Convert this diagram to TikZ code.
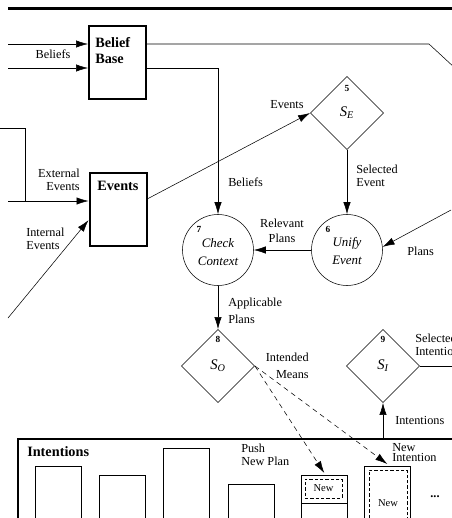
\documentclass[tikz,border=0pt]{standalone}
\usepackage{fontspec}
\setmainfont{Liberation Serif}
\usetikzlibrary{arrows.meta,shapes.geometric}

\begin{document}
\begin{tikzpicture}[x=0.75pt,y=0.75pt,yscale=-1,xscale=1,
  arr/.style={-{Latex[length=9pt,width=5.5pt]}},
  dasharr/.style={-{Latex[length=9pt,width=5.5pt]},dash pattern=on 3.75pt off 3pt},
  store/.style={draw,line width=1.5pt,inner sep=0pt,minimum width=42.75pt,minimum height=54.75pt},
  proc/.style={draw,circle,inner sep=0pt,minimum size=53.25pt},
  sel/.style={draw,diamond,inner sep=0pt,minimum width=55pt,minimum height=55pt},
  stack/.style={draw,anchor=north west,inner sep=0pt,minimum width=34.5pt,minimum height=60pt},
  newbox/.style={draw,dash pattern=on 2.5pt off 1.5pt,inner sep=0pt,font=\fontsize{7.9}{9}\selectfont},
  lbl/.style={inner sep=0pt,font=\fontsize{9.2}{9.75}\selectfont},
  bfl/.style={inner sep=0pt,font=\fontsize{10.7}{12}\selectfont\bfseries},
  num/.style={inner sep=0pt,font=\fontsize{7}{8}\selectfont\bfseries},
  itl/.style={inner sep=0pt,font=\fontsize{9.7}{13.5}\selectfont\itshape},
  sym/.style={inner sep=0pt,font=\fontsize{11}{12}\selectfont\itshape}
]
\useasboundingbox (0,0) rectangle (451,518);

% top rule
\coordinate (t1) at (8,8);
\coordinate (t2) at (455,8);
\draw [line width=2.25pt] (t1) -- (t2) ;

% stores, processes and selection functions
\node [store] (bb) at (117.5,62.5) {};
\node [store] (ev) at (118,209.5) {};
\node [sel] (se) at (347,113) {};
\node [proc] (uf) at (347,250) {};
\node [proc] (cc) at (218,250) {};
\node [sel] (so) at (218,366) {};
\node [sel] (si) at (383,366) {};

% intention stacks
\node [draw,line width=1.5pt,anchor=north west,inner sep=0pt,minimum width=400pt,minimum height=80pt] (intf) at (17,438) {};
\node [stack] (r1) at (35,466) {};
\node [stack] (r2) at (99,475) {};
\node [stack] (r3) at (163,448) {};
\node [stack] (r4) at (228,484) {};
\node [stack] (r5) at (301,475) {};
\node [stack] (r6) at (364,466) {};
\node [newbox,minimum width=27.75pt,minimum height=14.25pt] (n5) at (323.5,488.5) {New};
\node [newbox,minimum width=28.5pt,minimum height=49.5pt] (n6) at (388,503) {New};
\coordinate (d5) at (301,503);
\draw (d5) -- (d5 -| r5.east) ;

% belief base
\coordinate (b1) at (8,44);
\coordinate (b2) at (8,68);
\coordinate (bk) at (429,44);
\coordinate (bo) at (462,74.5);
\draw [arr] (b1) -- (b1 -| bb.west) ;
\draw [arr] (b2) -- (b2 -| bb.west) ;
\draw (b1 -| bb.east) -- (bk) -- (bo) ;
\draw [arr] (b2 -| bb.east) -- (b2 -| cc) -- (cc) ;

% events
\coordinate (f1) at (0,128);
\coordinate (f2) at (25,128);
\coordinate (e1) at (8,201);
\coordinate (e2) at (8,318);
\draw (f1) -- (f2) -- (f2 |- e1) ;
\draw [arr] (e1) -- (e1 -| ev.west) ;
\draw [arr] (e2) -- ([yshift=8pt]ev.west) ;
\draw [arr] ([yshift=-8pt]ev.east) -- (se.west) ;
\draw [arr] (se.south) -- (uf.north) ;
\draw [arr] (uf) -- (cc) ;
\coordinate (p1) at (451,210);
\draw [arr] (p1) -- (uf.5) ;
\draw [arr] (cc.south) -- (so.north) ;
\draw [dasharr] (so.east) -- ([yshift=-1.5pt]r5.north) ;
\draw [dasharr] (so.east) -- ([yshift=-1.5pt]r6.north) ;
\coordinate (s1) at (455,366);
\draw (si.east) -- (s1) ;
\draw [arr] (intf.north -| si) -- (si.south) ;

% labels (base of a multi-line label is its last line)
\node [lbl,anchor=base] (lb1) at (53,58) {Beliefs};
\node [bfl,anchor=base west,align=left] (lbb) at (95,63) {Belief\\Base};
\node [bfl,anchor=base west] (lev) at (97,190) {Events};
\node [lbl,anchor=base east,align=right] (lee) at (80,190) {External\\Events};
\node [lbl,anchor=base west,align=left] (lie) at (26,249) {Internal\\Events};
\node [lbl,anchor=base west] (lse) at (270,108) {Events};
\node [num] (n5l) at (347,88) {5};
\node [sym] (sel) at (347,113) {S\textsubscript{E}};
\node [lbl,anchor=base west] (lbc) at (228,186) {Beliefs};
\node [lbl,anchor=base west,align=left] (lsv) at (356,186) {Selected\\Event};
\node [lbl,anchor=base,align=center,font=\fontsize{9.2}{11.25}\selectfont] (lrp) at (282,242) {Relevant\\Plans};
\node [num] (n6l) at (328,229) {6};
\node [itl,anchor=base,align=center] (luf) at (347,264) {Unify\\Event};
\node [num] (n7l) at (199,229) {7};
\node [itl,anchor=base,align=center] (lcc) at (218,265) {Check\\Context};
\node [lbl,anchor=base west] (lpl) at (407,255) {Plans};
\node [lbl,anchor=base west,align=left,font=\fontsize{9.2}{12.75}\selectfont] (lap) at (228,323) {Applicable\\Plans};
\node [num] (n8l) at (218,339) {8};
\node [sym] (sol) at (218,366) {S\textsubscript{O}};
\node [lbl,anchor=base east,align=right,font=\fontsize{9.2}{12.75}\selectfont] (lim) at (309,378) {Intended\\Means};
\node [num] (n9l) at (383,339) {9};
\node [sym] (sil) at (383,366) {S\textsubscript{I}};
\node [lbl,anchor=base west,align=left] (lsi) at (415,355) {Selected\\Intention};
\node [lbl,anchor=base west] (lin) at (395,424) {Intentions};
\node [bfl,anchor=base west] (lif) at (27,456) {Intentions};
\node [lbl,anchor=base west,align=left] (lpn) at (241,465) {Push\\New Plan};
\node [lbl,anchor=base west,align=left,font=\fontsize{9.2}{7.5}\selectfont] (lni) at (392,461) {New\\Intention};
\node [lbl] (ldots) at (435,497) {\textbf{...}};

\end{tikzpicture}
\end{document}
